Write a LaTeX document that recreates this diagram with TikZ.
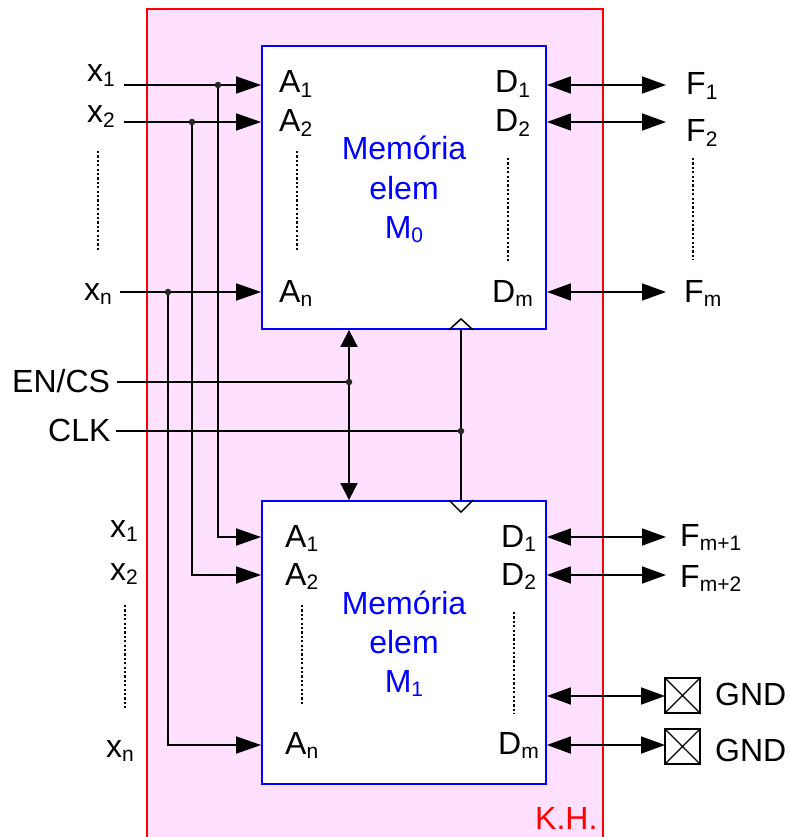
\documentclass[tikz,border=0pt]{standalone}
\usepackage{fontspec}
\setmainfont{Liberation Sans}
\usetikzlibrary{arrows.meta, calc}
\definecolor{khpink}{HTML}{FFE0FF}
\definecolor{khred}{HTML}{FF0000}
\definecolor{memblue}{HTML}{0000FF}
\newcommand{\sig}[2]{#1\raisebox{-4.5pt}{\fontsize{21}{21}\selectfont #2}}
\tikzset{
  lbl/.style={inner sep=0pt, anchor=base west, font=\fontsize{32}{36}\selectfont},
  membox/.style={draw=memblue, fill=white, line width=1.8pt, minimum width=284pt, minimum height=283pt, inner sep=0pt},
  memtext/.style={inner sep=0pt, anchor=base, text=memblue, font=\fontsize{32}{36}\selectfont},
  wire/.style={line width=1.8pt},
  inarrow/.style={wire, -{Triangle[length=25pt,width=17pt]}},
  bidir/.style={wire, {Triangle[length=24pt,width=17pt]}-{Triangle[length=24pt,width=17pt]}},
  vbidir/.style={wire, {Triangle[length=17pt,width=17pt]}-{Triangle[length=17pt,width=17pt]}},
  dots/.style={line width=1.5pt, dash pattern=on 2.2pt off 2.2pt},
  joint/.style={circle, fill=black!85, inner sep=0pt, minimum size=6.5pt},
  gndbox/.style={draw, line width=1.5pt, minimum size=35pt, inner sep=0pt}
}
\begin{document}
\begin{tikzpicture}[x=1pt, y=-1pt]
  \useasboundingbox (0,0) rectangle (788,837);

  % chip outline
  \fill[khpink] (147,9) rectangle (603,837);
  \draw[khred, line width=2pt] (147,837) -- (147,9) -- (603,9) -- (603,837);
  \node[lbl, text=khred] (khlabel) at (535,829) {K.H.};

  % memories
  \node[membox] (mem0) at (404,187.5) {};
  \node[membox] (mem1) at (404,642.5) {};
  \node[memtext] (mem0a) at (404,160) {Memória};
  \node[memtext] (mem0b) at (404,199) {elem};
  \node[memtext] (mem0c) at (404,238) {\sig{M}{0}};
  \node[memtext] (mem1a) at (404,614) {Memória};
  \node[memtext] (mem1b) at (404,653) {elem};
  \node[memtext] (mem1c) at (404,692) {\sig{M}{1}};

  % left labels
  \node[lbl] (x1) at (87,82) {\sig{x}{1}};
  \node[lbl] (x2) at (87,123) {\sig{x}{2}};
  \node[lbl] (xn) at (84,300) {\sig{x}{n}};
  \node[lbl] (xb1) at (110,537) {\sig{x}{1}};
  \node[lbl] (xb2) at (110,580) {\sig{x}{2}};
  \node[lbl] (xbn) at (106,757) {\sig{x}{n}};
  \node[lbl] (en) at (12,392) {EN/CS};
  \node[lbl] (clk) at (48,441) {CLK};

  % pins of the upper memory
  \node[lbl] (a01) at (279,93) {\sig{A}{1}};
  \node[lbl] (a02) at (279,132) {\sig{A}{2}};
  \node[lbl] (a0n) at (279,302) {\sig{A}{n}};
  \node[lbl] (d01) at (495,93) {\sig{D}{1}};
  \node[lbl] (d02) at (495,132) {\sig{D}{2}};
  \node[lbl] (d0m) at (492,302) {\sig{D}{m}};

  % pins of the lower memory
  \node[lbl] (a11) at (285,547) {\sig{A}{1}};
  \node[lbl] (a12) at (285,585) {\sig{A}{2}};
  \node[lbl] (a1n) at (285,754) {\sig{A}{n}};
  \node[lbl] (d11) at (501,547) {\sig{D}{1}};
  \node[lbl] (d12) at (501,585) {\sig{D}{2}};
  \node[lbl] (d1m) at (498,754) {\sig{D}{m}};

  % outputs
  \node[lbl] (f1) at (686,95) {\sig{F}{1}};
  \node[lbl] (f2) at (686,142) {\sig{F}{2}};
  \node[lbl] (fm) at (684,302) {\sig{F}{m}};
  \node[lbl] (fm1) at (680,546) {\sig{F}{m+1}};
  \node[lbl] (fm2) at (680,587) {\sig{F}{m+2}};
  \node[gndbox] (gnd1) at (682.5,695.5) {};
  \node[gndbox] (gnd2) at (682.5,746.5) {};
  \draw[line width=1.2pt] (gnd1.north west) -- (gnd1.south east) (gnd1.north east) -- (gnd1.south west);
  \draw[line width=1.2pt] (gnd2.north west) -- (gnd2.south east) (gnd2.north east) -- (gnd2.south west);
  \node[lbl] (gndt1) at (715,705) {GND};
  \node[lbl] (gndt2) at (715,761) {GND};

  % wire ends
  \coordinate (w1) at (124,85);
  \coordinate (w2) at (124,122);
  \coordinate (wn) at (120,292);
  \coordinate (j1) at (218,85);
  \coordinate (j2) at (192,122);
  \coordinate (jn) at (168,292);
  \coordinate (wen) at (117,382);
  \coordinate (wclk) at (116,431);
  \coordinate (jen) at (349,382);
  \coordinate (jclk) at (461,431);
  \coordinate (fo1) at (666,85);
  \coordinate (fo2) at (666,122);
  \coordinate (fom) at (666,292);
  \coordinate (fo3) at (666,537);
  \coordinate (fo4) at (666,575);
  \coordinate (fo5) at (665,696);
  \coordinate (fo6) at (665,745);

  % address lines
  \draw[inarrow] (w1) -- (w1 -| mem0.west);
  \draw[inarrow] (w2) -- (w2 -| mem0.west);
  \draw[inarrow] (wn) -- (wn -| mem0.west);
  \draw[inarrow] (j1) |- (mem1.west |- 0,537);
  \draw[inarrow] (j2) |- (mem1.west |- 0,575);
  \draw[inarrow] (jn) |- (mem1.west |- 0,745);
  \node[joint] (p1) at (j1) {};
  \node[joint] (p2) at (j2) {};
  \node[joint] (pn) at (jn) {};

  % control lines
  \draw[wire] (wen) -- (jen);
  \draw[wire] (wclk) -- (jclk);
  \draw[vbidir] (jen |- mem0.south) -- (jen |- mem1.north);
  \draw[wire] (jclk |- mem0.south) -- (jclk |- mem1.north);
  \node[joint] (pen) at (jen) {};
  \node[joint] (pclk) at (jclk) {};
  \draw[line width=1.5pt] ($(jclk |- mem0.south)+(-12,0)$) -- ++(12,-11) -- ++(12,11);
  \draw[line width=1.5pt] ($(jclk |- mem1.north)+(-12,0)$) -- ++(12,12) -- ++(12,-12);

  % data lines
  \draw[bidir] (fo1 -| mem0.east) -- (fo1);
  \draw[bidir] (fo2 -| mem0.east) -- (fo2);
  \draw[bidir] (fom -| mem0.east) -- (fom);
  \draw[bidir] (fo3 -| mem1.east) -- (fo3);
  \draw[bidir] (fo4 -| mem1.east) -- (fo4);
  \draw[bidir] (fo5 -| mem1.east) -- (fo5);
  \draw[bidir] (fo6 -| mem1.east) -- (fo6);

  % dotted runs
  \draw[dots] (98,151) -- (98,252);
  \draw[dots] (297,151) -- (297,252);
  \draw[dots] (508,158) -- (508,262);
  \draw[dots] (693,158) -- (693,260);
  \draw[dots] (125,605) -- (125,708);
  \draw[dots] (302,605) -- (302,706);
  \draw[dots] (514,612) -- (514,714);
\end{tikzpicture}
\end{document}
